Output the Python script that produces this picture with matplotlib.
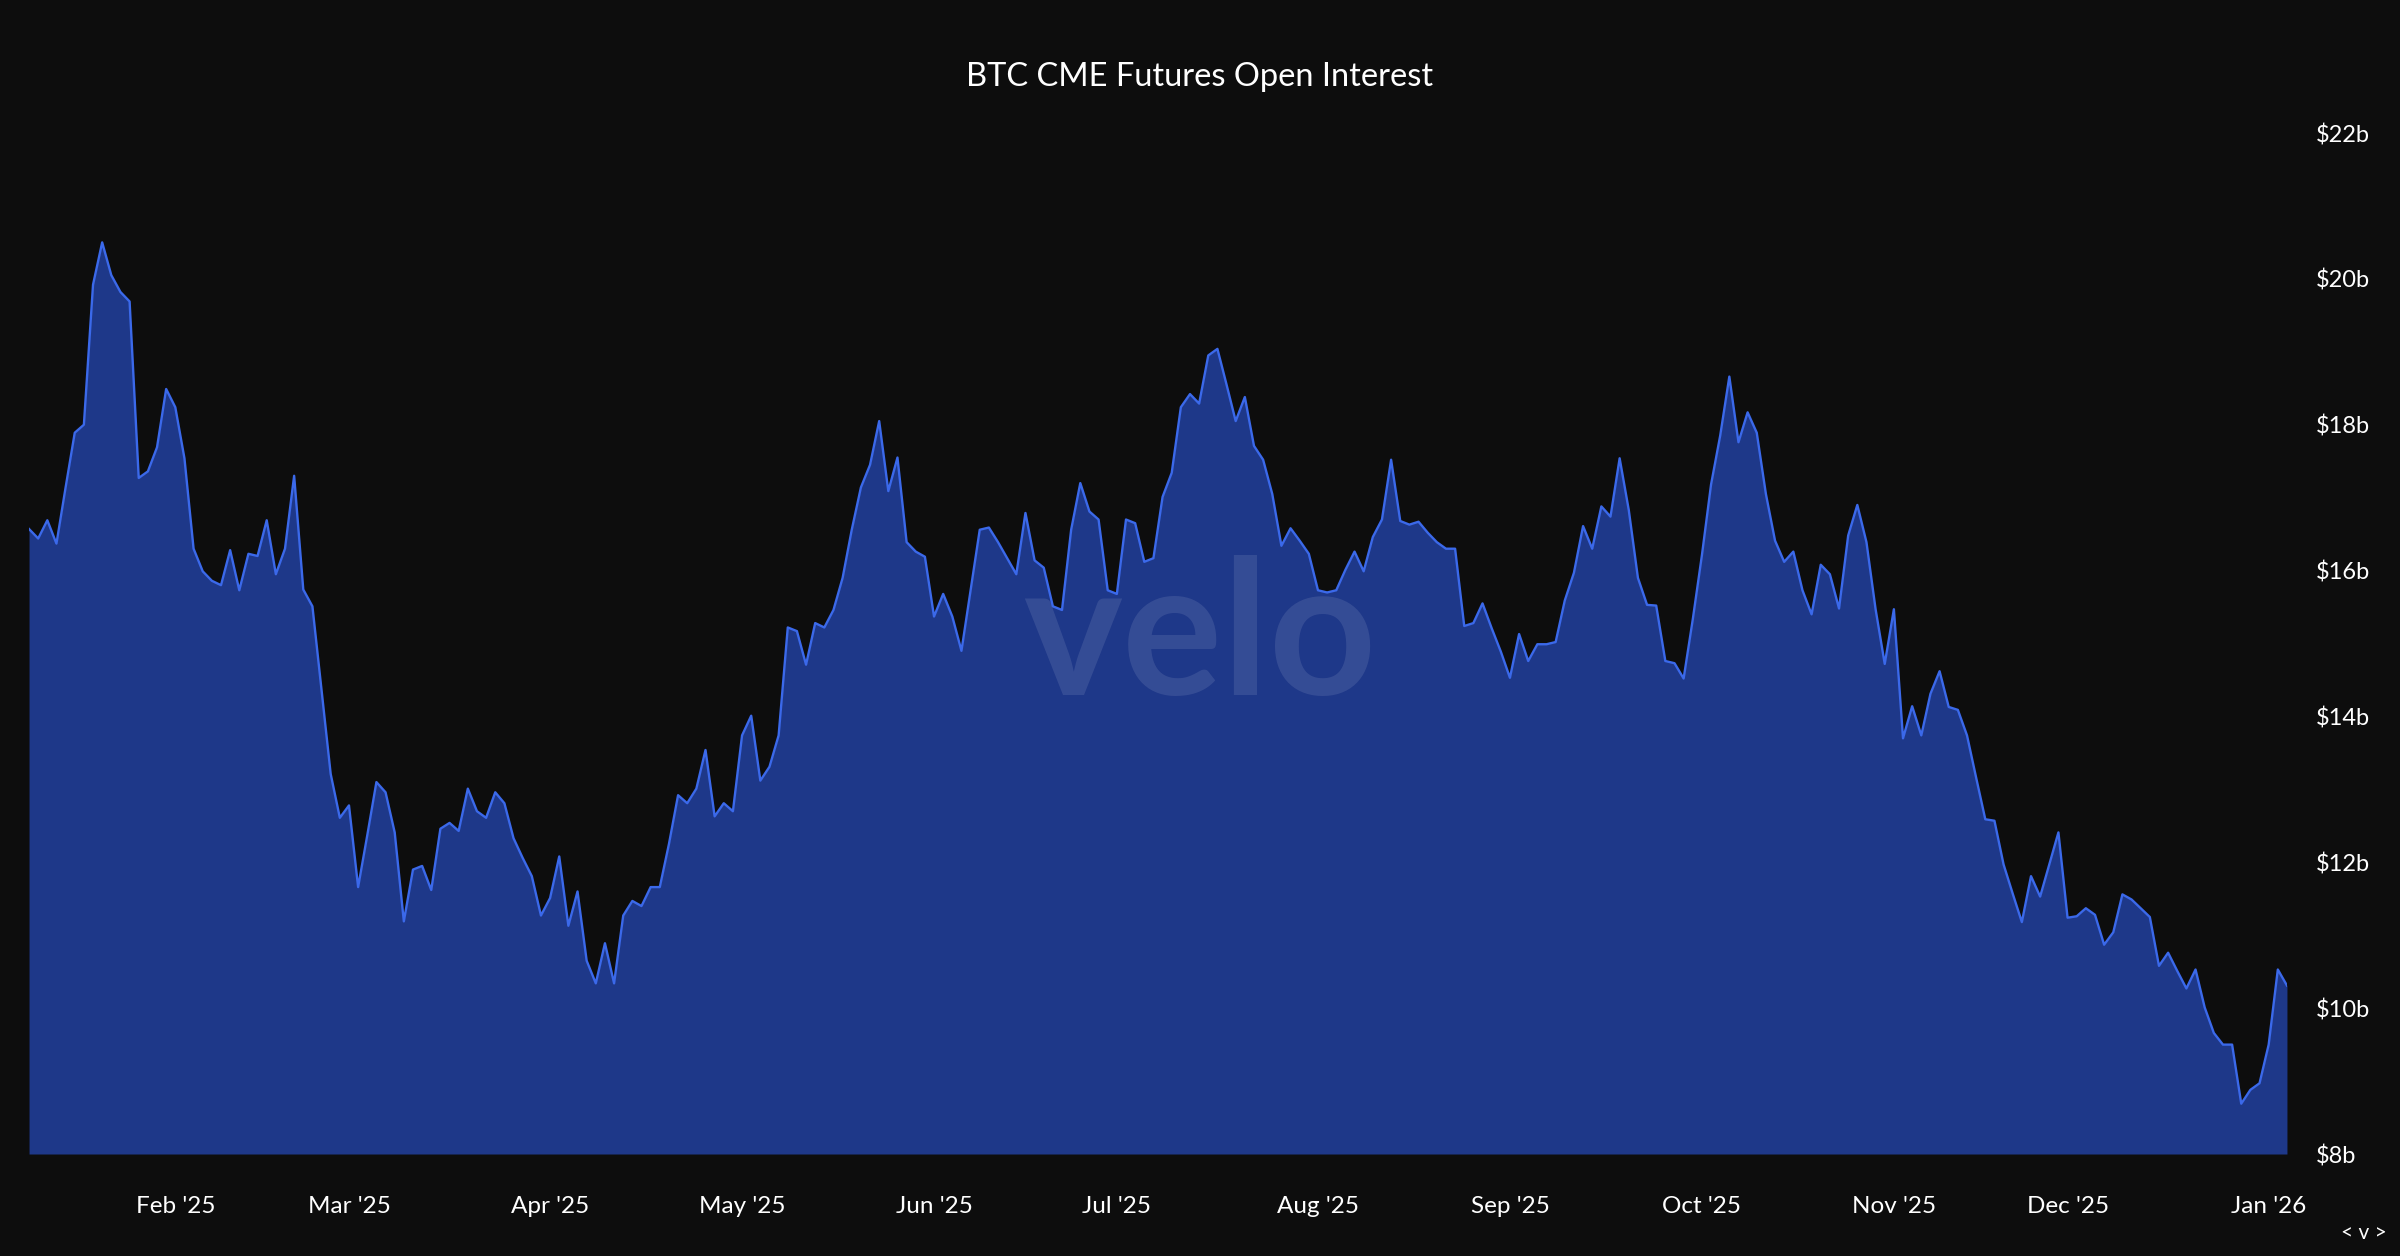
import numpy as np
import matplotlib.pyplot as plt

plt.rcParams['font.family'] = ['Lato', 'DejaVu Sans']

# open interest in $b, one value per trading day, grouped by month
jan25 = [16.57, 16.44, 16.69, 16.37, 17.14, 17.89, 18.00, 19.92, 20.50, 20.05, 19.82, 19.69, 17.27, 17.36, 17.69, 18.49]
feb25 = [18.24, 17.54, 16.30, 15.99, 15.86, 15.80, 16.28, 15.73, 16.23, 16.20, 16.69, 15.95, 16.30, 17.30, 15.74, 15.51, 14.36, 13.21, 12.61]
mar25 = [12.78, 11.66, 12.37, 13.10, 12.96, 12.41, 11.19, 11.90, 11.95, 11.62, 12.46, 12.54, 12.43, 13.01, 12.70, 12.61, 12.96, 12.81, 12.33, 12.06, 11.81, 11.27]
apr25 = [11.51, 12.08, 11.13, 11.60, 10.65, 10.34, 10.89, 10.34, 11.27, 11.47, 11.40, 11.66, 11.66, 12.25, 12.92, 12.81, 13.01, 13.54, 12.63, 12.81, 12.70]
may25 = [13.74, 14.01, 13.12, 13.31, 13.74, 15.22, 15.17, 14.71, 15.28, 15.22, 15.46, 15.90, 16.56, 17.14, 17.45, 18.05, 17.09, 17.55, 16.39, 16.26, 16.19]
jun25 = [15.37, 15.68, 15.37, 14.90, 15.73, 16.56, 16.59, 16.39, 16.17, 15.95, 16.79, 16.14, 16.04, 15.51, 15.46, 16.56, 17.20, 16.81, 16.70, 15.73]
jul25 = [15.68, 16.70, 16.65, 16.12, 16.17, 17.01, 17.34, 18.24, 18.42, 18.29, 18.95, 19.04, 18.55, 18.05, 18.38, 17.71, 17.52, 17.05, 16.34, 16.58, 16.41, 16.23]
aug25 = [15.73, 15.70, 15.73, 16.01, 16.26, 15.99, 16.46, 16.70, 17.52, 16.68, 16.63, 16.67, 16.52, 16.39, 16.30, 16.30, 15.24, 15.28, 15.55, 15.21, 14.89]
sep25 = [14.53, 15.13, 14.76, 14.99, 14.99, 15.02, 15.59, 15.97, 16.61, 16.30, 16.88, 16.74, 17.54, 16.83, 15.90, 15.53, 15.52, 14.76, 14.73, 14.52, 15.33]
oct25 = [16.21, 17.18, 17.85, 18.66, 17.76, 18.17, 17.89, 17.05, 16.41, 16.12, 16.26, 15.73, 15.40, 16.08, 15.95, 15.48, 16.48, 16.90, 16.39, 15.47, 14.72]
nov25 = [15.47, 13.70, 14.14, 13.74, 14.31, 14.62, 14.13, 14.09, 13.74, 13.16, 12.59, 12.57, 11.97, 11.57, 11.18, 11.81, 11.53, 11.97, 12.41]
dec25 = [11.24, 11.26, 11.37, 11.28, 10.87, 11.04, 11.56, 11.49, 11.37, 11.25, 10.58, 10.76, 10.51, 10.27, 10.53, 10.01, 9.66, 9.50, 9.50, 8.69, 8.88, 8.97]
jan26 = [9.50, 10.53, 10.31]

months = [jan25, feb25, mar25, apr25, may25, jun25, jul25, aug25, sep25, oct25, nov25, dec25, jan26]
month_labels = ["Feb '25", "Mar '25", "Apr '25", "May '25", "Jun '25", "Jul '25",
                "Aug '25", "Sep '25", "Oct '25", "Nov '25", "Dec '25", "Jan '26"]
y_ticks = [8, 10, 12, 14, 16, 18, 20, 22]

oi = np.concatenate(months)
x = np.arange(len(oi))
month_starts = np.cumsum([len(m) for m in months])[:-1]

bg = '#0d0d0d'
fig = plt.figure(figsize=(24, 12.56), dpi=100, facecolor=bg)
ax = fig.add_axes([0.0121, 0.0812, 0.9408, 0.8129])
ax.set_facecolor(bg)

ax.fill_between(x, oi, 8, color='#1e3889', lw=0, zorder=1)
ax.plot(x, oi, color='#3b69ea', lw=1.7, zorder=3)

# watermark, centred on the figure
fig.text(0.5, 0.49, 'velo', ha='center', va='center',
         fontsize=135, fontweight='bold', color='white', alpha=0.1, zorder=2)

ax.set_xlim(0, len(oi) - 1)
ax.set_ylim(8, 22)
ax.set_xticks(month_starts)
ax.set_xticklabels(month_labels)
ax.set_yticks(y_ticks)
ax.set_yticklabels(['$%db' % v for v in y_ticks])
ax.yaxis.tick_right()
ax.tick_params(axis='y', length=0, pad=21, labelsize=17, labelcolor='white')
ax.tick_params(axis='x', length=0, pad=30, labelsize=17.5, labelcolor='white')
for s in ax.spines.values():
    s.set_visible(False)

fig.text(0.5, 0.939, 'BTC CME Futures Open Interest', ha='center', va='center',
         fontsize=23.5, color='white')
fig.text(0.985, 0.018, '< v >', ha='center', va='center', fontsize=15, color='white')

fig.savefig('out.png', dpi=100, facecolor=bg)
